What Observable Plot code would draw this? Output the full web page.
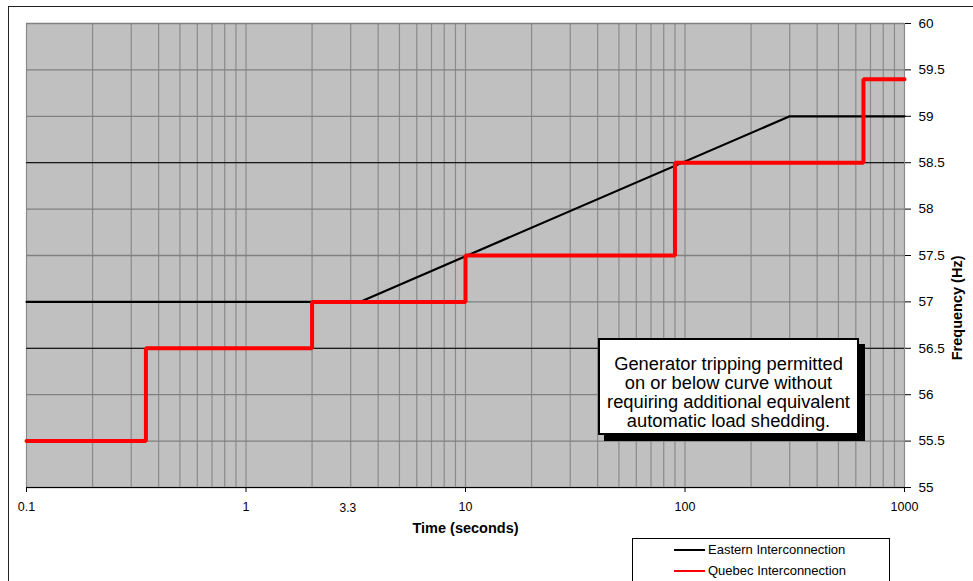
<!DOCTYPE html>
<html>
<head>
<meta charset="utf-8">
<script src="https://cdn.jsdelivr.net/npm/d3@7"></script>
<script src="https://cdn.jsdelivr.net/npm/@observablehq/plot@0.6"></script>
<style>
  html, body { margin: 0; padding: 0; background: #fff; }
  #wrap { position: relative; width: 973px; height: 581px; overflow: hidden; font-family: "Liberation Sans", Arial, sans-serif; }
  #frame { position: absolute; left: 8px; top: 6px; width: 1000px; height: 600px; border: 1.5px solid #222; box-sizing: border-box; }
  #chart { position: absolute; left: 0; top: 0; }
  #note { position: absolute; left: 598px; top: 338px; width: 261px; height: 97px; box-sizing: border-box;
          border: 2px solid #000; background: #fff; box-shadow: 6px 6px 0 #000;
          font-size: 18.3px; line-height: 19px; text-align: center; padding-top: 14px; color: #000; white-space: nowrap; }
  #legend { position: absolute; left: 632px; top: 538px; width: 258px; height: 50px; box-sizing: border-box;
            border: 1px solid #000; background: #fff; font-size: 13px; }
  .row { position: absolute; left: 41px; height: 15px; display: flex; align-items: center; }
  .sw { width: 31px; height: 2px; margin-right: 3px; }
</style>
</head>
<body>
<div id="wrap">
  <div id="frame"></div>
  <div id="chart"></div>
  <div id="note"></div>
  <div id="legend"></div>
</div>
<script>
// ---- Data ----
const easternTime = [0.1, 3.3, 300, 1000];
const easternFreq = [57, 57, 59, 59];
const quebecTime = [0.1, 0.35, 2, 10, 90, 650, 1000];
const quebecFreq = [55.5, 56.5, 57, 57.5, 58.5, 59.4, 59.4];
const xTickValues = [0.1, 1, 10, 100, 1000];
const xExtraLabel = [3.3];
const yTickValues = [55, 55.5, 56, 56.5, 57, 57.5, 58, 58.5, 59, 59.5, 60];
const blackGridY = [56.5, 58.5];
const seriesNames = ["Eastern Interconnection", "Quebec Interconnection"];
const seriesColors = ["#000000", "#ff0000"];
const noteLines = ["Generator tripping permitted", "on or below curve without", "requiring additional equivalent", "automatic load shedding."];
const xTitle = "Time (seconds)";
const yTitle = "Frequency (Hz)";

const eastern = easternTime.map((t, i) => ({t, f: easternFreq[i]}));
const quebec = quebecTime.map((t, i) => ({t, f: quebecFreq[i]}));
const gridX = d3.scaleLog().domain([0.1, 1000]).ticks();

const chart = Plot.plot({
  width: 973,
  height: 581,
  marginLeft: 26,
  marginRight: 69,
  marginTop: 23,
  marginBottom: 94,
  style: { fontFamily: "Liberation Sans, Arial, sans-serif", background: "transparent" },
  x: { type: "log", domain: [0.1, 1000] },
  y: { domain: [55, 60] },
  marks: [
    Plot.frame({ fill: "#c0c0c0", stroke: null }),
    Plot.ruleX(gridX, { stroke: "#8a8a8a", strokeWidth: 1.2 }),
    Plot.ruleY(yTickValues, { stroke: "#808080", strokeWidth: 1.3 }),
    Plot.ruleY(blackGridY, { stroke: "#000", strokeWidth: 1 }),
    Plot.ruleY([55], { stroke: "#000", strokeWidth: 1.2 }),
    Plot.axisX({ ticks: xTickValues, tickFormat: d => String(d), tickSize: 5, tickPadding: 10, fontSize: 12.5, label: null, stroke: "#000" }),
    Plot.text(xExtraLabel, { x: d => d, frameAnchor: "bottom", text: d => String(d), dy: 24, dx: -12, fontSize: 12 }),
    Plot.axisY({ anchor: "right", ticks: yTickValues, tickFormat: d => String(d), tickSize: 6, tickPadding: 8, fontSize: 13.5, label: null }),
    Plot.text([xTitle], { frameAnchor: "bottom", dy: 45, fontSize: 14.5, fontWeight: "bold" }),
    Plot.text([yTitle], { frameAnchor: "right", dx: 53, rotate: -90, fontSize: 14.5, fontWeight: "bold" }),
    Plot.line(eastern, { x: "t", y: "f", stroke: seriesColors[0], strokeWidth: 2.2 }),
    Plot.line(quebec, { x: "t", y: "f", stroke: seriesColors[1], strokeWidth: 4, curve: "step-after", strokeLinejoin: "miter" })
  ]
});
document.getElementById("chart").appendChild(chart);

document.getElementById("note").innerHTML = noteLines.map(s => `<div>${s}</div>`).join("");

const legend = document.getElementById("legend");
seriesNames.forEach((name, i) => {
  const row = document.createElement("div");
  row.className = "row";
  row.style.top = (3 + i * 21) + "px";
  row.innerHTML = `<div class="sw" style="background:${seriesColors[i]}"></div><span>${name}</span>`;
  legend.appendChild(row);
});
</script>
</body>
</html>
